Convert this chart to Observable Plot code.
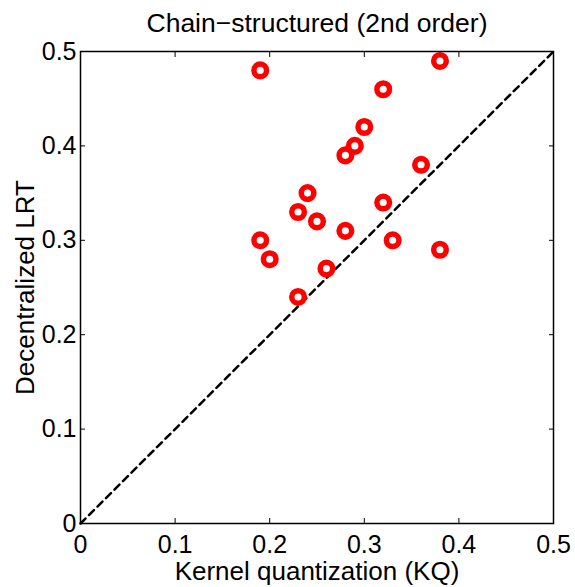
<!DOCTYPE html>
<html>
<head>
<meta charset="utf-8">
<script src="https://cdn.jsdelivr.net/npm/d3@7"></script>
<script src="https://cdn.jsdelivr.net/npm/@observablehq/plot@0.6"></script>
<style>
  html, body { margin: 0; padding: 0; background: #fff; }
  svg { font-family: "Liberation Sans", Arial, sans-serif; }
</style>
</head>
<body>
<div id="chart"></div>
<script>
const title = "Chain\u2212structured (2nd order)";
const xLabel = "Kernel quantization (KQ)";
const yLabel = "Decentralized LRT";
const kq  = [0.19, 0.38, 0.32, 0.30, 0.29, 0.28, 0.36, 0.24, 0.32, 0.23, 0.25, 0.28, 0.19, 0.33, 0.38, 0.20, 0.26, 0.23];
const lrt = [0.48, 0.49, 0.46, 0.42, 0.40, 0.39, 0.38, 0.35, 0.34, 0.33, 0.32, 0.31, 0.30, 0.30, 0.29, 0.28, 0.27, 0.24];
const ticks = [0, 0.1, 0.2, 0.3, 0.4, 0.5];
const domain = [0, 0.5];

const points = kq.map((x, i) => ({x, y: lrt[i]}));
const diag = domain.map(v => ({x: v, y: v}));

const chart = Plot.plot({
  width: 575,
  height: 587,
  marginTop: 51,
  marginLeft: 80,
  marginRight: 22,
  marginBottom: 64,
  style: {fontFamily: "'Liberation Sans', Arial, sans-serif", background: "#fff"},
  x: {domain, ticks, label: null},
  y: {domain, ticks, label: null},
  marks: [
    Plot.line(diag, {x: "x", y: "y", stroke: "black", strokeWidth: 2.5, strokeDasharray: "7,5"}),
    Plot.dot(points, {x: "x", y: "y", r: 6.3, stroke: "#ff0000", strokeWidth: 5.5, fill: "none"}),
    Plot.frame({stroke: "black", strokeWidth: 1.5}),
    Plot.axisX(ticks, {anchor: "bottom", tickSize: 0, tickPadding: 12, fontSize: 25, fill: "black", tickFormat: d => String(d)}),
    Plot.axisY(ticks, {anchor: "left", tickSize: 0, tickPadding: 4, fontSize: 25, fill: "black", tickFormat: d => String(d)}),
    Plot.axisX(ticks, {anchor: "bottom", tickSize: -5, stroke: "black", tickFormat: () => ""}),
    Plot.axisX(ticks, {anchor: "top", tickSize: -5, stroke: "black", tickFormat: () => ""}),
    Plot.axisY(ticks, {anchor: "left", tickSize: -5, stroke: "black", tickFormat: () => ""}),
    Plot.axisY(ticks, {anchor: "right", tickSize: -5, stroke: "black", tickFormat: () => ""}),
    Plot.text([title], {frameAnchor: "top", lineAnchor: "middle", dy: -27.5, fontSize: 26.5, fill: "black"}),
    Plot.text([xLabel], {frameAnchor: "bottom", lineAnchor: "middle", dy: 48.5, fontSize: 26, fill: "black"}),
    Plot.text([yLabel], {frameAnchor: "left", textAnchor: "middle", lineAnchor: "middle", rotate: -90, dx: -55, fontSize: 26, fill: "black"})
  ]
});
document.getElementById("chart").appendChild(chart);
</script>
</body>
</html>
